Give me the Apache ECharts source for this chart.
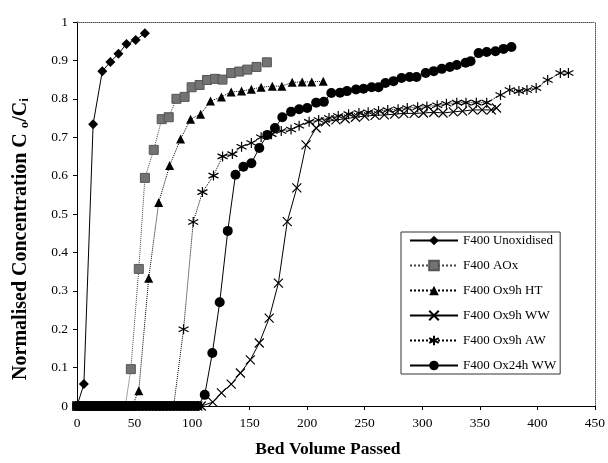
<!DOCTYPE html>
<html><head><meta charset="utf-8">
<script src="https://cdn.jsdelivr.net/npm/echarts@6/dist/echarts.min.js"></script>
<style>html,body{margin:0;padding:0;background:#fff}#c{width:608px;height:463px}</style>
</head><body><div id="c"></div>
<script>
const seriesNames = ["F400 Unoxidised","F400 AOx","F400 Ox9h HT","F400 Ox9h WW","F400 Ox9h AW","F400 Ox24h WW"];
const xTicks = [0,50,100,150,200,250,300,350,400,450];
const yTicks = [0,0.1,0.2,0.3,0.4,0.5,0.6,0.7,0.8,0.9,1];

const unoxX = [0,6,14,22,29,36,43,51,59];
const unoxY = [0,0.057,0.734,0.872,0.896,0.917,0.943,0.953,0.971];

const aoxX = [0,3,6,9,12,15,18,21,24,27,30,33,36,39,42,46.8,53.7,59,66.7,73.6,79.7,86.4,93.5,99.6,106.5,113,120,126.4,134,141,148,156,165];
const aoxY = [0,0,0,0,0,0,0,0,0,0,0,0,0,0,0,0.096,0.357,0.594,0.667,0.747,0.752,0.8,0.805,0.83,0.836,0.849,0.852,0.85,0.867,0.871,0.876,0.883,0.895];

const htX = [0,3,6,9,12,15,18,21,24,27,30,33,36,39,42,45,48,53.7,62.3,71,80.5,90,98.7,107.4,116,125.5,134,143,151.5,160,169.7,178,187,195.7,204,214];
const htY = [0,0,0,0,0,0,0,0,0,0,0,0,0,0,0,0,0,0.04,0.333,0.53,0.626,0.695,0.747,0.76,0.794,0.805,0.818,0.82,0.825,0.83,0.833,0.833,0.843,0.844,0.844,0.846];

const wwX = [0,3,6,9,12,15,18,21,24,27,30,33,36,39,42,45,48,51,54,57,60,63,66,69,72,75,78,81,84,87,90,93,96,99,102,105,108,118,125.5,134,142,150.6,158.4,167,175,182.7,191,199,207.8,216,225,233,242,250,259,267,276,284,293,301,310,318,327,335,344,352,360,364.5];
const wwY = [0,0,0,0,0,0,0,0,0,0,0,0,0,0,0,0,0,0,0,0,0,0,0,0,0,0,0,0,0,0,0,0,0,0,0,0,0,0.01,0.034,0.057,0.086,0.12,0.164,0.229,0.32,0.48,0.568,0.68,0.724,0.74,0.745,0.748,0.752,0.755,0.757,0.758,0.76,0.762,0.762,0.763,0.765,0.763,0.766,0.768,0.771,0.771,0.771,0.776];

const awX = [0,3,6,9,12,15,18,21,24,27,30,33,36,39,42,45,48,51,54,57,60,63,66,69,72,75,78,81,84,92.6,101,109,118.6,126.5,135,143,151.5,160,169,177.5,186,193,201.7,210,219,227,236,245,253,262,270,279,287,296,304,313,321,330,338,347,356,368,376,384,391,399,409,420,427];
const awY = [0,0,0,0,0,0,0,0,0,0,0,0,0,0,0,0,0,0,0,0,0,0,0,0,0,0,0,0,0,0.2,0.479,0.557,0.6,0.65,0.656,0.675,0.685,0.7,0.708,0.716,0.72,0.73,0.74,0.745,0.75,0.755,0.76,0.763,0.765,0.768,0.771,0.773,0.776,0.778,0.78,0.783,0.787,0.79,0.79,0.79,0.79,0.81,0.823,0.82,0.823,0.828,0.849,0.867,0.867];

const h24X = [0,3,6,9,12,15,18,21,24,27,30,33,36,39,42,45,48,51,54,57,60,63,66,69,72,75,78,81,84,87,90,93,96,99,102,105,111,117.6,124,131,137.7,144.6,151.5,158.4,165.4,172,178.4,186,193,200,207.8,214.5,221,228.6,234.6,242.4,249,256,262,268,275,282,289,295,303,310,317,324,330,337.7,342,349,356,363.6,370.6,377.5];
const h24Y = [0,0,0,0,0,0,0,0,0,0,0,0,0,0,0,0,0,0,0,0,0,0,0,0,0,0,0,0,0,0,0,0,0,0,0,0,0.029,0.138,0.27,0.456,0.602,0.623,0.632,0.672,0.706,0.724,0.752,0.766,0.773,0.776,0.79,0.792,0.815,0.816,0.82,0.824,0.826,0.83,0.83,0.841,0.846,0.854,0.857,0.857,0.867,0.872,0.878,0.883,0.888,0.894,0.898,0.919,0.922,0.924,0.93,0.935];

function pts(xs, ys){ return xs.map((x,i)=>[x, ys[i]]); }

const FONT = "'Liberation Serif','Times New Roman',serif";
const crossPath = 'path://M0,0L10,10M10,0L0,10';
const starPath = 'path://M5,0L5,10M0.7,2.5L9.3,7.5M0.7,7.5L9.3,2.5';

function mk(name, data, symbol, size, opts){
  return Object.assign({
    name, type:'line', data, symbol, symbolSize:size, showAllSymbol:true,
    lineStyle:{color:'#000', width:1, type:'solid'},
    itemStyle:{color:'#000', borderColor:'#000', borderWidth:0},
    emphasis:{disabled:true}, z:2
  }, opts||{});
}

const series = [
  mk(seriesNames[0], pts(unoxX,unoxY), 'diamond', 10),
  mk(seriesNames[1], pts(aoxX,aoxY), 'rect', 9, {
    lineStyle:{color:'#444', width:1, type:'dotted'},
    itemStyle:{color:'#737373', borderColor:'#555', borderWidth:1}}),
  mk(seriesNames[2], pts(htX,htY), 'triangle', 9, {
    lineStyle:{color:'#000', width:1, type:'dotted'}}),
  mk(seriesNames[3], pts(wwX,wwY), crossPath, 9, {
    itemStyle:{color:'#000', borderColor:'#000', borderWidth:1.2}}),
  mk(seriesNames[4], pts(awX,awY), starPath, 10, {
    lineStyle:{color:'#000', width:1, type:'dotted'},
    itemStyle:{color:'#000', borderColor:'#000', borderWidth:1.2}}),
  mk(seriesNames[5], pts(h24X,h24Y), 'circle', 10)
];

const chart = echarts.init(document.getElementById('c'), null, {renderer:'canvas'});
chart.setOption({
  animation:false,
  backgroundColor:'#fff',
  textStyle:{fontFamily:FONT, color:'#000'},
  grid:{left:77, right:12, top:22, bottom:57, containLabel:false},
  xAxis:[{
    type:'value', min:0, max:450, interval:50, position:'bottom',
    name:'Bed Volume Passed', nameLocation:'middle', nameGap:34,
    nameTextStyle:{fontFamily:FONT, fontSize:17.5, fontWeight:'bold', color:'#000', padding:[0,16,0,0]},
    axisLine:{show:true, onZero:false, lineStyle:{color:'#000', width:1}},
    axisTick:{show:true, length:4, lineStyle:{color:'#000'}},
    axisLabel:{fontFamily:FONT, fontSize:13.5, color:'#000', margin:10,
      formatter:v=>xTicks.includes(v)?String(v):''},
    splitLine:{show:false}
  },{
    type:'value', min:0, max:450, interval:50, position:'top',
    axisLine:{show:true, onZero:false, lineStyle:{color:'#555', width:1, type:'dotted'}},
    axisTick:{show:false}, axisLabel:{show:false}, splitLine:{show:false}
  }],
  yAxis:[{
    type:'value', min:0, max:1, interval:0.1, position:'left',
    name:'Normalised Concentration C {sub|o}/C{sub|i}', nameLocation:'middle', nameGap:46,
    nameTextStyle:{fontFamily:FONT, fontSize:20, fontWeight:'bold', color:'#000', padding:[0,50,0,0],
      rich:{sub:{fontFamily:FONT, fontSize:13, fontWeight:'bold', color:'#000', verticalAlign:'bottom', padding:[8,0,0,0]}}},
    axisLine:{show:true, onZero:false, lineStyle:{color:'#000', width:1}},
    axisTick:{show:true, length:4, lineStyle:{color:'#000'}},
    axisLabel:{fontFamily:FONT, fontSize:13.5, color:'#000', margin:9,
      formatter:v=>{const t=yTicks.find(k=>Math.abs(k-v)<1e-9); return t===undefined?'':String(t);}},
    splitLine:{show:false}
  },{
    type:'value', min:0, max:1, interval:0.1, position:'right',
    axisLine:{show:true, onZero:false, lineStyle:{color:'#555', width:1, type:'dotted'}},
    axisTick:{show:false}, axisLabel:{show:false}, splitLine:{show:false}
  }],
  legend:{
    data:seriesNames, orient:'vertical', left:401, top:232,
    padding:[2,4,2,8], itemGap:12, itemWidth:48, itemHeight:12,
    backgroundColor:'#fff', borderColor:'#333', borderWidth:1,
    textStyle:{fontFamily:FONT, fontSize:13, color:'#000'}
  },
  series
});
</script></body></html>
